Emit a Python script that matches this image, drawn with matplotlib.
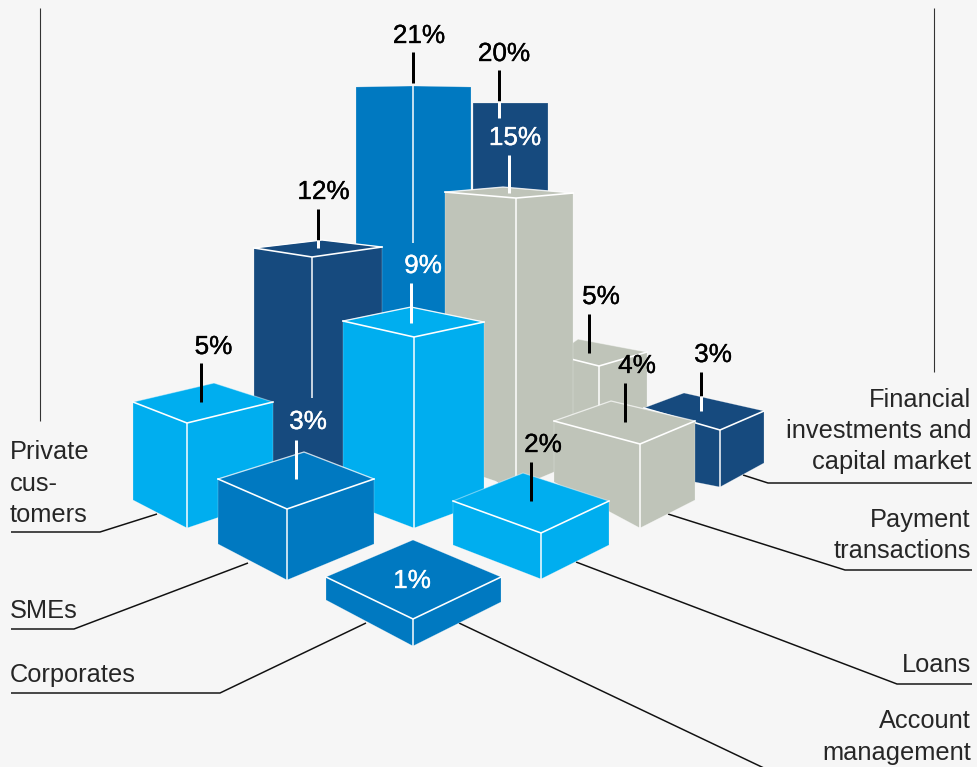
import matplotlib
matplotlib.use("Agg")
import matplotlib.pyplot as plt
import matplotlib.patheffects as pe
from matplotlib.patches import Polygon

# Share of each business area per segment, in percent (painted back to front)
bar_values = [20, 21, 5, 3, 12, 15, 4, 9, 5, 3, 2, 1]
bar_labels = ["20%", "21%", "5%", "3%", "12%", "15%", "4%", "9%", "5%", "3%", "2%", "1%"]

CYAN, BLUE, NAVY, GREY = "#00aeef", "#0079c1", "#164a7e", "#bfc4b9"
bar_colors = [NAVY, BLUE, GREY, NAVY, NAVY, GREY, GREY, CYAN, CYAN, BLUE, CYAN, BLUE]

# Isometric footprint of every box
front_x = [499, 413, 599, 720, 312, 516, 640, 414, 187, 287, 541, 413]
base_y = [483, 506, 471, 487, 509, 488, 528, 528, 528, 580, 579, 646]
px_per_pct = [19, 20, 21, 19, 21, 19.33, 21, 21.22, 21, 23.67, 23, 27]
left_x = [473, 356, 555, 644, 254, 445, 554, 343, 133, 218, 453, 326]
right_x = [548, 471, 647, 764, 382, 573, 695, 484, 273, 374, 609, 501]
back_x = [499, 413, 578, 684, 322, 503, 611, 411, 214, 304, 523, 413]
top_left_dy = [0, 1, -11, -22, -9, -6, -23, -16, -21, -30, -32, -42]
top_right_dy = [0, 1, -14, -19, -10, -5, -23, -15, -21, -30, -32, -42]
top_back_dy = [0, 0, -27, -37, -17, -11, -43, -30, -40, -57, -60, -79]
foot_left_dy = [-20, -20, -20, -15, -25, -24, -46, -27, -28, -36, -34, -46]
foot_right_dy = [-20, -20, -25, -24, -25, -24, -28, -26, -29, -36, -34, -44]
edge_stop_y = [None, 243, None, None, 398, None, None, None, None, None, None, None]
back_edge_alpha = [0.0, 0.0, 0.35, 0.0, 1.0, 0.8, 0.6, 0.9, 0.25, 0.7, 0.25, 0.0]
front_edge = [False, True, True, True, True, True, True, True, True, True, True, True]

# Value captions: centre of the caption, stem x, black stem span, white stem span
caption_x = [504, 419, 601, 713, 323.5, 515, 637, 423, 213.5, 308, 543, 412]
caption_y = [54, 36, 297, 355, 192, 138, 366, 266, 347, 422, 445, 581]
caption_white = [False, False, False, False, False, True, False, True, False, True, False, True]
stem_x = [499, 413, 589, 701, 318, 509, 625, 411, 201, 296, 531, None]
stem_black = [(70, 101), (52, 83), (314, 353), (372, 396), (209, 240), None,
              (383, 422), None, (363, 402), None, (462, 501), None]
stem_white = [(101, 118), None, None, (396, 411), (240, 248), (155, 193),
              None, (283, 323), None, (440, 479), None, None]

# Business area names, one entry per line of text: (text, baseline)
left_names = [("Private", 459), ("cus-", 491), ("tomers", 522), ("SMEs", 618), ("Corporates", 682)]
right_names = [("Financial", 407), ("investments and", 438), ("capital market", 469),
               ("Payment", 527), ("transactions", 558), ("Loans", 672),
               ("Account", 728), ("management", 760)]

# Thin callouts from the names to the boxes
callouts = [
    [(11, 532), (100, 532), (157, 514)],
    [(11, 629), (74, 629), (248, 563)],
    [(11, 693), (220, 693), (366, 623)],
    [(459, 623), (766, 769)],
    [(576, 562), (897, 684), (972, 684)],
    [(668, 514), (845, 570), (972, 570)],
    [(743, 475), (768, 483), (972, 483)],
]
frame_rules = [[(40, 8), (40, 421)], [(934, 8), (934, 372)]]

BACKGROUND = "#f6f6f6"
FONT = "Liberation Sans"

fig = plt.figure(figsize=(9.78, 7.67), dpi=100, facecolor=BACKGROUND)
ax = fig.add_axes([0, 0, 1, 1])
ax.set_xlim(0, 978)
ax.set_ylim(767, 0)
ax.axis("off")


def px(width):
    return width * 0.72


for pts in frame_rules:
    ax.plot(*zip(*pts), color="#333333", lw=px(1.1), solid_capstyle="butt", zorder=1)
for pts in callouts:
    ax.plot(*zip(*pts), color="#111111", lw=px(1.5), solid_capstyle="butt",
            solid_joinstyle="miter", zorder=1)

for i, value in enumerate(bar_values):
    z = 2 + i
    fx, by = front_x[i], base_y[i]
    top_y = by - value * px_per_pct[i]
    tl = (left_x[i], top_y + top_left_dy[i])
    tr = (right_x[i], top_y + top_right_dy[i])
    tb = (back_x[i], top_y + top_back_dy[i])
    tf = (fx, top_y)
    bl = (left_x[i], by + foot_left_dy[i])
    br = (right_x[i], by + foot_right_dy[i])
    bf = (fx, by)
    ax.add_patch(Polygon([tb, tr, br, bf, bl, tl], closed=True, facecolor=bar_colors[i],
                         edgecolor=(1, 1, 1, 0.35), lw=px(0.6), zorder=z,
                         joinstyle="miter"))
    if back_edge_alpha[i] > 0:
        ax.plot([tl[0], tb[0], tr[0]], [tl[1], tb[1], tr[1]], color="white",
                alpha=back_edge_alpha[i], lw=px(1.3), zorder=z)
    if front_edge[i]:
        stop = edge_stop_y[i] if edge_stop_y[i] is not None else by
        ax.plot([fx, fx], [top_y, stop], color="white", lw=px(1.5),
                solid_capstyle="butt", zorder=z)
    if i > 1:
        ax.plot([tl[0], tf[0], tr[0]], [tl[1], tf[1], tr[1]], color="white", lw=px(1.6),
                solid_joinstyle="miter", zorder=z)

for i, label in enumerate(bar_labels):
    color = "white" if caption_white[i] else "black"
    ax.text(caption_x[i], caption_y[i], label, color=color, ha="center", va="center",
            fontsize=18.8, family=FONT, zorder=40,
            path_effects=[pe.withStroke(linewidth=0.25, foreground=color)])
    if stem_black[i]:
        ax.plot([stem_x[i]] * 2, stem_black[i], color="black", lw=px(3),
                solid_capstyle="butt", zorder=30)
    if stem_white[i]:
        ax.plot([stem_x[i]] * 2, stem_white[i], color="white", lw=px(3),
                solid_capstyle="butt", zorder=30)

for text, base in left_names:
    ax.text(9.5, base, text, ha="left", va="baseline", fontsize=18.3, family=FONT,
            color="#262626", zorder=40)
for text, base in right_names:
    ax.text(971, base, text, ha="right", va="baseline", fontsize=18.3, family=FONT,
            color="#262626", zorder=40)

fig.savefig("out.png", dpi=100, facecolor=BACKGROUND)
